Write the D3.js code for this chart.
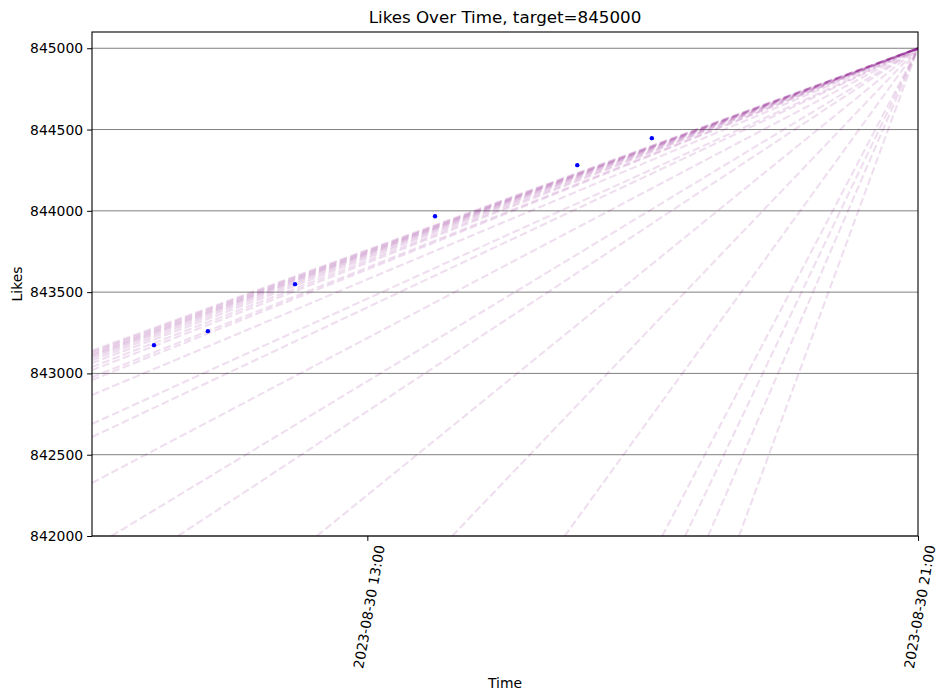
<!DOCTYPE html>
<html><head><meta charset="utf-8">
<script src="https://cdn.jsdelivr.net/npm/d3@7"></script>
<style>body{margin:0;background:#fff;} text{font-family:"DejaVu Sans",sans-serif;}</style>
</head><body>
<svg id="c" width="945" height="700"></svg>
<script>
const targetTime = "2023-08-30 21:00";
const targetValue = 845000;
const xDomain = ["2023-08-30 09:00", "2023-08-30 21:00"];
const yDomain = [842000, 845100];
const yTicks = [842000, 842500, 843000, 843500, 844000, 844500, 845000];
const xTicks = ["2023-08-30 13:00", "2023-08-30 21:00"];

const pointTimes = ["2023-08-30 09:54","2023-08-30 10:41","2023-08-30 11:57","2023-08-30 13:59","2023-08-30 16:03","2023-08-30 17:08"];
const pointValues = [843174, 843260, 843549, 843967, 844281, 844447];

// projection lines: start points, each drawn to the target
const lineStartTimes = [
 "2023-08-30 09:00","2023-08-30 09:00","2023-08-30 09:00","2023-08-30 09:00","2023-08-30 09:00",
 "2023-08-30 09:00","2023-08-30 09:00","2023-08-30 09:00","2023-08-30 09:00","2023-08-30 09:00",
 "2023-08-30 09:00","2023-08-30 09:00","2023-08-30 09:00","2023-08-30 09:00","2023-08-30 09:00",
 "2023-08-30 09:00",
 "2023-08-30 09:17","2023-08-30 10:15","2023-08-30 12:16","2023-08-30 14:14","2023-08-30 15:52",
 "2023-08-30 17:17","2023-08-30 17:37","2023-08-30 17:57","2023-08-30 18:24"];
const lineStartValues = [
 843140, 843131, 843122, 843113, 843105,
 843094, 843080, 843063, 843040, 843020,
 842977, 842959, 842867, 842689, 842609,
 842326,
 842000, 842000, 842000, 842000, 842000,
 842000, 842000, 842000, 842000];

const parse = d3.timeParse("%Y-%m-%d %H:%M");
const fmt = d3.timeFormat("%Y-%m-%d %H:%M");
const svg = d3.select("#c");
const m = {l:92, r:918, t:32, b:536};
const x = d3.scaleTime().domain(xDomain.map(parse)).range([m.l, m.r]);
const y = d3.scaleLinear().domain(yDomain).range([m.b, m.t]);

svg.append("defs").append("clipPath").attr("id","clip")
  .append("rect").attr("x",m.l).attr("y",m.t).attr("width",m.r-m.l).attr("height",m.b-m.t);

// grid
svg.append("g").selectAll("line").data(yTicks).join("line")
  .attr("x1",m.l).attr("x2",m.r).attr("y1",d=>y(d)).attr("y2",d=>y(d))
  .attr("stroke","#808080").attr("stroke-width",1);

// projection lines
const plot = svg.append("g").attr("clip-path","url(#clip)");
plot.selectAll("line.proj").data(lineStartTimes.map((t,i)=>({t:parse(t), v:lineStartValues[i]})))
  .join("line").attr("class","proj")
  .attr("x1",d=>x(d.t)).attr("y1",d=>y(d.v))
  .attr("x2",x(parse(targetTime))).attr("y2",y(targetValue))
  .attr("stroke","rgb(128,0,128)").attr("stroke-opacity",0.13)
  .attr("stroke-width",2.1).attr("stroke-dasharray","7.7,3.3");

// points
plot.selectAll("circle").data(pointTimes.map((t,i)=>({t:parse(t), v:pointValues[i]})))
  .join("circle").attr("cx",d=>x(d.t)).attr("cy",d=>y(d.v)).attr("r",2.2).attr("fill","#0000ff");

// frame
svg.append("rect").attr("x",m.l).attr("y",m.t).attr("width",m.r-m.l).attr("height",m.b-m.t)
  .attr("fill","none").attr("stroke","#000").attr("stroke-width",1.1);

// y axis
const ya = svg.append("g").attr("transform",`translate(${m.l},0)`)
  .call(d3.axisLeft(y).tickValues(yTicks).tickFormat(d3.format("d")).tickSize(4.9).tickPadding(4));
ya.select(".domain").remove();
ya.selectAll("text").attr("font-size","13.9px").attr("font-family","DejaVu Sans").attr("fill","#000");
ya.selectAll("line").attr("stroke","#000");

// x axis
const xa = svg.append("g").attr("transform",`translate(0,${m.b})`)
  .call(d3.axisBottom(x).tickValues(xTicks.map(parse)).tickFormat(fmt).tickSize(4.9));
xa.select(".domain").remove();
xa.selectAll("line").attr("stroke","#000");
xa.selectAll("text")
  .attr("font-size","13.9px").attr("font-family","DejaVu Sans").attr("fill","#000")
  .attr("text-anchor","end").attr("dy",null).attr("y",null)
  .attr("transform","translate(17,10) rotate(-80)");

// titles
svg.append("text").attr("x",(m.l+m.r)/2).attr("y",23).attr("text-anchor","middle")
  .attr("font-size","16.7px").text("Likes Over Time, target=845000");
svg.append("text").attr("x",(m.l+m.r)/2).attr("y",688).attr("text-anchor","middle")
  .attr("font-size","13.9px").text("Time");
svg.append("text").attr("transform",`translate(22,${(m.t+m.b)/2}) rotate(-90)`).attr("text-anchor","middle")
  .attr("font-size","13.9px").text("Likes");
</script>
</body></html>
